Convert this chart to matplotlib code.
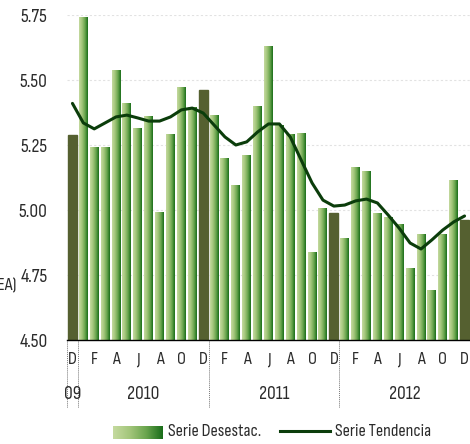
import numpy as np
import matplotlib.pyplot as plt
from matplotlib.colors import LinearSegmentedColormap
from matplotlib.patches import Rectangle
from matplotlib.lines import Line2D

plt.rcParams['font.family'] = ['Sofia Sans Condensed', 'DejaVu Sans']

months = ['D'] + ['E', 'F', 'M', 'A', 'M', 'J', 'J', 'A', 'S', 'O', 'N', 'D'] * 3
years = ['09', '2010', '2011', '2012']

desestac = [5.29,
            5.74, 5.24, 5.24, 5.535, 5.41, 5.315, 5.36, 4.99, 5.29, 5.47, 5.395, 5.46,
            5.365, 5.20, 5.095, 5.21, 5.40, 5.63, 5.325, 5.29, 5.295, 4.835, 5.005, 4.99,
            4.89, 5.165, 5.15, 4.985, 4.97, 4.945, 4.775, 4.905, 4.69, 4.905, 5.115, 4.96]

tendencia = [5.41,
             5.335, 5.312, 5.335, 5.358, 5.365, 5.354, 5.342, 5.342, 5.358, 5.385, 5.392, 5.373,
             5.327, 5.281, 5.25, 5.262, 5.30, 5.331, 5.331, 5.281, 5.192, 5.104, 5.038, 5.015,
             5.019, 5.035, 5.042, 5.027, 4.98, 4.93, 4.873, 4.85, 4.885, 4.923, 4.954, 4.977]

grad = LinearSegmentedColormap.from_list('g', ['#c5da9f', '#a3c67b', '#6aa54e', '#1a6e1a'])
dark_bar = '#556030'
txt = '#2b2b2b'

fig = plt.figure(figsize=(4.70, 4.44), dpi=100)
ax = fig.add_axes([67 / 470, 1 - 340 / 444, 403 / 470, 325 / 444])

ymin, ymax = 4.5, 5.75
n = len(desestac)
w = 0.82
g = np.linspace(0, 1, 64).reshape(1, -1)
for i, v in enumerate(desestac):
    x0 = i - w / 2
    if months[i] == 'D':
        ax.add_patch(Rectangle((x0, ymin), w, v - ymin, color=dark_bar, zorder=2))
    else:
        ax.imshow(g, cmap=grad, extent=(x0, x0 + w, ymin, v), aspect='auto', zorder=2,
                  interpolation='bilinear')

ax.plot(range(n), tendencia, color='#0b3d0b', lw=2.2, zorder=3, solid_capstyle='round')

ax.set_xlim(-0.5, n - 0.5)
ax.set_ylim(ymin, ymax)
ax.set_yticks([4.5, 4.75, 5.0, 5.25, 5.5, 5.75])
ax.set_yticklabels(['4.50', '4.75', '5.00', '5.25', '5.50', '5.75'], fontsize=14, color=txt)
ax.tick_params(axis='y', length=0, pad=14)
ax.set_xticks([])
for y in [4.75, 5.0, 5.25, 5.5, 5.75]:
    ax.axhline(y, color='#e2e2e2', lw=0.8, ls=(0, (2, 2)), zorder=1)
for s in ['top', 'right', 'left']:
    ax.spines[s].set_visible(False)
ax.spines['bottom'].set_color('black')
ax.spines['bottom'].set_linestyle((0, (1, 1)))
ax.spines['bottom'].set_linewidth(1.0)

# month letters and year labels
for i, m in enumerate(months):
    if i % 2 == 0:
        ax.text(i, -20 / 325, m, transform=ax.get_xaxis_transform(), ha='center', va='center',
                fontsize=13, color=txt)
year_pos = [0, 6.5, 18.5, 30.5]
for p, y in zip(year_pos, years):
    ax.text(p, -54 / 325, y, transform=ax.get_xaxis_transform(), ha='center', va='center',
            fontsize=14, color=txt)
for xb in [-0.5, 0.5, 12.5, 24.5, 36.5]:
    ax.plot([xb, xb], [0, -68 / 325], transform=ax.get_xaxis_transform(), clip_on=False,
            color='#777777', lw=0.7, ls=(0, (1, 1)))

fig.text(16 / 470, 1 - 286 / 444, '(% PEA)', ha='right', va='center', fontsize=13,
         color=txt, fontweight='bold')

# legend
lg = fig.add_axes([113 / 470, 1 - 439 / 444, 50 / 470, 13 / 444])
lg.imshow(g, cmap=grad, aspect='auto', interpolation='bilinear')
lg.axis('off')
fig.text(168 / 470, 1 - 431 / 444, 'Serie Desestac.', ha='left', va='center', fontsize=13,
         color=txt)
fig.add_artist(Line2D([280 / 470, 330 / 470], [1 - 431 / 444] * 2, color='#0b3d0b', lw=2.2))
fig.text(335 / 470, 1 - 431 / 444, 'Serie Tendencia', ha='left', va='center', fontsize=13,
         color=txt)

fig.savefig('out.png', dpi=100)
